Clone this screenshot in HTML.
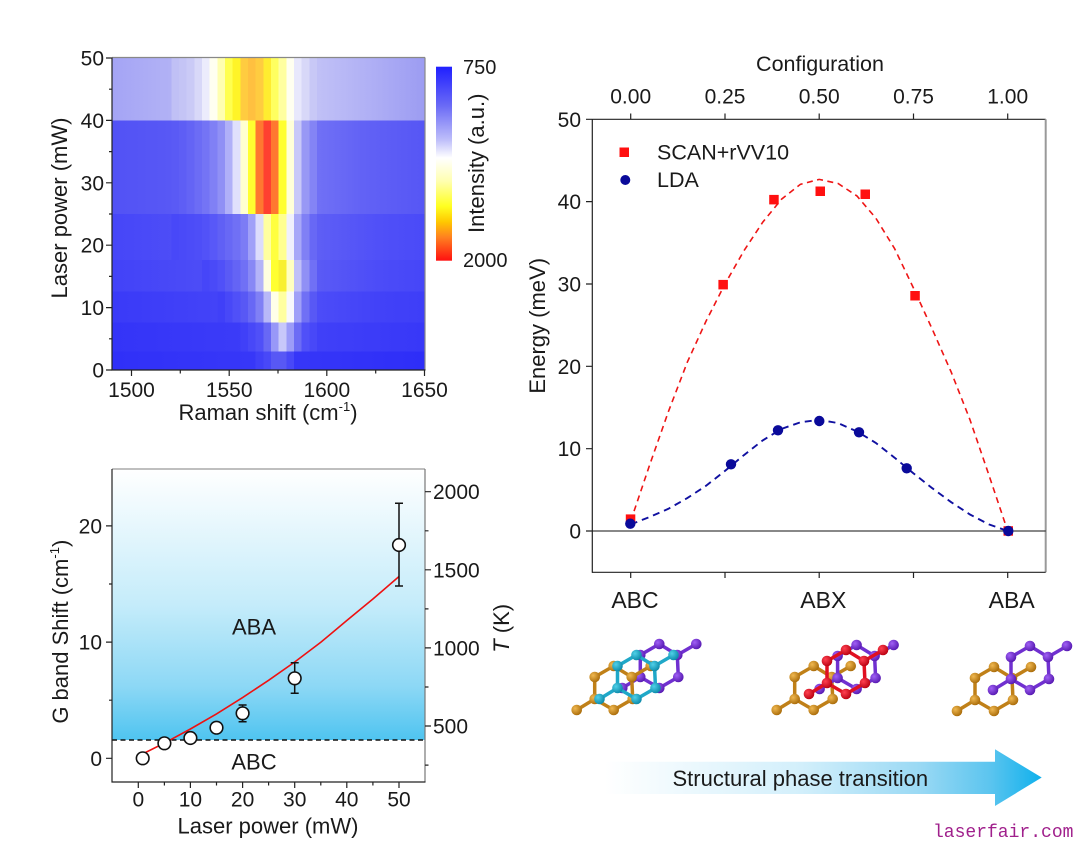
<!DOCTYPE html>
<html><head><meta charset="utf-8"><style>
html,body{margin:0;padding:0;background:#fff;}
svg{display:block;}
text{font-family:"Liberation Sans",Arial,sans-serif;fill:#1a1a1a;}
</style></head><body>
<svg width="1080" height="862" viewBox="0 0 1080 862" xmlns="http://www.w3.org/2000/svg">
<defs>
<linearGradient id="cb" x1="0" y1="0" x2="0" y2="1">
<stop offset="0" stop-color="#2020ff"/><stop offset="0.2" stop-color="#6a6af6"/><stop offset="0.38" stop-color="#c0c0fa"/><stop offset="0.47" stop-color="#ffffff"/><stop offset="0.59" stop-color="#ffffb0"/><stop offset="0.72" stop-color="#ffff20"/><stop offset="0.8" stop-color="#ffc800"/><stop offset="0.88" stop-color="#ff8020"/><stop offset="1" stop-color="#ff1010"/>
</linearGradient>
<linearGradient id="g50" gradientUnits="userSpaceOnUse" x1="112" y1="0" x2="425" y2="0"><stop offset="0" stop-color="#a4a4f5"/><stop offset="0.16" stop-color="#b0b0f5"/><stop offset="0.66" stop-color="#c0c0f6"/><stop offset="0.82" stop-color="#b0b0f5"/><stop offset="1" stop-color="#9c9cf2"/></linearGradient>
<linearGradient id="g30" gradientUnits="userSpaceOnUse" x1="112" y1="0" x2="425" y2="0"><stop offset="0" stop-color="#5252f5"/><stop offset="0.19" stop-color="#5858f5"/><stop offset="0.66" stop-color="#7070f5"/><stop offset="0.8" stop-color="#6262f5"/><stop offset="1" stop-color="#5656f5"/></linearGradient>
<linearGradient id="g20" gradientUnits="userSpaceOnUse" x1="112" y1="0" x2="425" y2="0"><stop offset="0" stop-color="#4646f8"/><stop offset="0.66" stop-color="#5e5ef5"/><stop offset="0.85" stop-color="#5050f8"/><stop offset="1" stop-color="#4a4af8"/></linearGradient>
<linearGradient id="g15" gradientUnits="userSpaceOnUse" x1="112" y1="0" x2="425" y2="0"><stop offset="0" stop-color="#4242f8"/><stop offset="0.66" stop-color="#5a5af5"/><stop offset="0.85" stop-color="#4c4cf8"/><stop offset="1" stop-color="#4646f8"/></linearGradient>
<linearGradient id="g10" gradientUnits="userSpaceOnUse" x1="112" y1="0" x2="425" y2="0"><stop offset="0" stop-color="#3a3af8"/><stop offset="0.66" stop-color="#4c4cf8"/><stop offset="0.85" stop-color="#4242f8"/><stop offset="1" stop-color="#3e3ef8"/></linearGradient>
<linearGradient id="g5" gradientUnits="userSpaceOnUse" x1="112" y1="0" x2="425" y2="0"><stop offset="0" stop-color="#3434f8"/><stop offset="0.66" stop-color="#4040f8"/><stop offset="1" stop-color="#3838f8"/></linearGradient>
<linearGradient id="g0" gradientUnits="userSpaceOnUse" x1="112" y1="0" x2="425" y2="0"><stop offset="0" stop-color="#3030f8"/><stop offset="0.5" stop-color="#3838f8"/><stop offset="1" stop-color="#2e2ef8"/></linearGradient>
<linearGradient id="bg2" x1="0" y1="0" x2="0" y2="1"><stop offset="0" stop-color="#ffffff"/><stop offset="0.5" stop-color="#c5ecfa"/><stop offset="0.8" stop-color="#8dd8f5"/><stop offset="1" stop-color="#4fc4f0"/></linearGradient>
<linearGradient id="arr" gradientUnits="userSpaceOnUse" x1="605" y1="0" x2="1042" y2="0"><stop offset="0" stop-color="#ffffff"/><stop offset="0.45" stop-color="#d2effb"/><stop offset="0.72" stop-color="#9ad9f4"/><stop offset="0.88" stop-color="#5cc5ef"/><stop offset="1" stop-color="#0fb0ec"/></linearGradient>
<radialGradient id="aO" cx="0.35" cy="0.35" r="0.7"><stop offset="0" stop-color="#f0b850"/><stop offset="1" stop-color="#a86a08"/></radialGradient>
<radialGradient id="aP" cx="0.35" cy="0.35" r="0.7"><stop offset="0" stop-color="#a060f5"/><stop offset="1" stop-color="#5518b0"/></radialGradient>
<radialGradient id="aC" cx="0.35" cy="0.35" r="0.7"><stop offset="0" stop-color="#50d0e8"/><stop offset="1" stop-color="#0a88a8"/></radialGradient>
<radialGradient id="aR" cx="0.35" cy="0.35" r="0.7"><stop offset="0" stop-color="#ff4050"/><stop offset="1" stop-color="#b80010"/></radialGradient>
<g id="hO"><path d="M0,-22 L18,-11 L19,11 L0,22 L-19,11 L-19,-11 Z M18,-11 L37,-22 M-19,11 L-37,22" fill="none" stroke="#c08018" stroke-width="3.5"/><g fill="url(#aO)"><circle cx="0" cy="-22" r="5.3"/><circle cx="18" cy="-11" r="5.3"/><circle cx="19" cy="11" r="5.3"/><circle cx="0" cy="22" r="5.3"/><circle cx="-19" cy="11" r="5.3"/><circle cx="-19" cy="-11" r="5.3"/><circle cx="37" cy="-22" r="5.3"/><circle cx="-37" cy="22" r="5.3"/></g></g>
<g id="hP"><path d="M0,-22 L18,-11 L19,11 L0,22 L-19,11 L-19,-11 Z M18,-11 L37,-22 M-19,11 L-37,22" fill="none" stroke="#7030d0" stroke-width="3.5"/><g fill="url(#aP)"><circle cx="0" cy="-22" r="5.3"/><circle cx="18" cy="-11" r="5.3"/><circle cx="19" cy="11" r="5.3"/><circle cx="0" cy="22" r="5.3"/><circle cx="-19" cy="11" r="5.3"/><circle cx="-19" cy="-11" r="5.3"/><circle cx="37" cy="-22" r="5.3"/><circle cx="-37" cy="22" r="5.3"/></g></g>
<g id="hC"><path d="M0,-22 L18,-11 L19,11 L0,22 L-19,11 L-19,-11 Z M18,-11 L37,-22 M-19,11 L-37,22" fill="none" stroke="#20a8c8" stroke-width="3.5"/><g fill="url(#aC)"><circle cx="0" cy="-22" r="5.3"/><circle cx="18" cy="-11" r="5.3"/><circle cx="19" cy="11" r="5.3"/><circle cx="0" cy="22" r="5.3"/><circle cx="-19" cy="11" r="5.3"/><circle cx="-19" cy="-11" r="5.3"/><circle cx="37" cy="-22" r="5.3"/><circle cx="-37" cy="22" r="5.3"/></g></g>
<g id="hR"><path d="M0,-22 L18,-11 L19,11 L0,22 L-19,11 L-19,-11 Z M18,-11 L37,-22 M-19,11 L-37,22" fill="none" stroke="#e01020" stroke-width="3.5"/><g fill="url(#aR)"><circle cx="0" cy="-22" r="5.3"/><circle cx="18" cy="-11" r="5.3"/><circle cx="19" cy="11" r="5.3"/><circle cx="0" cy="22" r="5.3"/><circle cx="-19" cy="11" r="5.3"/><circle cx="-19" cy="-11" r="5.3"/><circle cx="37" cy="-22" r="5.3"/><circle cx="-37" cy="22" r="5.3"/></g></g>
</defs>

<rect width="1080" height="862" fill="#fff"/>

<!-- ================= HEATMAP ================= -->
<g shape-rendering="crispEdges">
<rect x="112" y="58" width="313" height="62.4" fill="url(#g50)"/>
<rect x="112" y="120.4" width="313" height="93.8" fill="url(#g30)"/>
<rect x="112" y="214.2" width="313" height="46" fill="url(#g20)"/>
<rect x="112" y="260.2" width="313" height="31.5" fill="url(#g15)"/>
<rect x="112" y="291.7" width="313" height="31" fill="url(#g10)"/>
<rect x="112" y="322.7" width="313" height="29" fill="url(#g5)"/>
<rect x="112" y="351.7" width="313" height="18.3" fill="url(#g0)"/>

<svg x="0" y="58" width="1080" height="62.4" overflow="visible">
<rect x="171.3" width="7.8" height="100%" fill="#c0c0f5"/><rect x="179.0" width="7.8" height="100%" fill="#c4c4f5"/><rect x="186.6" width="7.8" height="100%" fill="#cacaf6"/><rect x="194.3" width="7.8" height="100%" fill="#d8d8f8"/><rect x="202.0" width="7.8" height="100%" fill="#ececfc"/><rect x="209.6" width="7.8" height="100%" fill="#fffff0"/><rect x="217.3" width="7.8" height="100%" fill="#ffffb0"/><rect x="225.0" width="7.8" height="100%" fill="#ffff50"/><rect x="232.7" width="7.8" height="100%" fill="#fff428"/><rect x="240.3" width="7.8" height="100%" fill="#ffcc40"/><rect x="248.0" width="7.8" height="100%" fill="#ffc040"/><rect x="255.7" width="7.8" height="100%" fill="#ffcc40"/><rect x="263.3" width="7.8" height="100%" fill="#ffec30"/><rect x="271.0" width="7.8" height="100%" fill="#ffff60"/><rect x="278.7" width="7.8" height="100%" fill="#ffffa0"/><rect x="286.3" width="7.8" height="100%" fill="#fffff0"/><rect x="294.0" width="7.8" height="100%" fill="#e8e8fc"/><rect x="301.7" width="7.8" height="100%" fill="#d8d8f8"/><rect x="309.4" width="7.8" height="100%" fill="#c8c8f6"/>
</svg>
<svg x="0" y="120.4" width="1080" height="93.8" overflow="visible">
<rect x="171.3" width="7.8" height="100%" fill="#5a5af5"/><rect x="179.0" width="7.8" height="100%" fill="#5e5ef5"/><rect x="186.6" width="7.8" height="100%" fill="#6464f5"/><rect x="194.3" width="7.8" height="100%" fill="#6c6cf5"/><rect x="202.0" width="7.8" height="100%" fill="#7474f5"/><rect x="209.6" width="7.8" height="100%" fill="#8080f5"/><rect x="217.3" width="7.8" height="100%" fill="#9090f5"/><rect x="225.0" width="7.8" height="100%" fill="#b0b0f8"/><rect x="232.7" width="7.8" height="100%" fill="#e0e0fc"/><rect x="240.3" width="7.8" height="100%" fill="#ffffd0"/><rect x="248.0" width="7.8" height="100%" fill="#ffff30"/><rect x="255.7" width="7.8" height="100%" fill="#ff7830"/><rect x="263.3" width="7.8" height="100%" fill="#ff4030"/><rect x="271.0" width="7.8" height="100%" fill="#ff7830"/><rect x="278.7" width="7.8" height="100%" fill="#ffff30"/><rect x="286.3" width="7.8" height="100%" fill="#ffffd8"/><rect x="294.0" width="7.8" height="100%" fill="#c8c8f8"/><rect x="301.7" width="7.8" height="100%" fill="#9898f5"/><rect x="309.4" width="7.8" height="100%" fill="#8484f5"/>
</svg>
<svg x="0" y="214.2" width="1080" height="46" overflow="visible">
<rect x="171.3" width="7.8" height="100%" fill="#4848f8"/><rect x="179.0" width="7.8" height="100%" fill="#4a4af8"/><rect x="186.6" width="7.8" height="100%" fill="#4c4cf8"/><rect x="194.3" width="7.8" height="100%" fill="#4e4ef8"/><rect x="202.0" width="7.8" height="100%" fill="#5252f8"/><rect x="209.6" width="7.8" height="100%" fill="#5858f8"/><rect x="217.3" width="7.8" height="100%" fill="#6060f5"/><rect x="225.0" width="7.8" height="100%" fill="#6868f5"/><rect x="232.7" width="7.8" height="100%" fill="#7070f5"/><rect x="240.3" width="7.8" height="100%" fill="#7c7cf5"/><rect x="248.0" width="7.8" height="100%" fill="#a0a0f8"/><rect x="255.7" width="7.8" height="100%" fill="#dcdcfc"/><rect x="263.3" width="7.8" height="100%" fill="#ffffa0"/><rect x="271.0" width="7.8" height="100%" fill="#ffff40"/><rect x="278.7" width="7.8" height="100%" fill="#ffff90"/><rect x="286.3" width="7.8" height="100%" fill="#f0f0fc"/><rect x="294.0" width="7.8" height="100%" fill="#a8a8f8"/><rect x="301.7" width="7.8" height="100%" fill="#8080f5"/><rect x="309.4" width="7.8" height="100%" fill="#6868f5"/>
</svg>
<svg x="0" y="260.2" width="1080" height="31.5" overflow="visible">
<rect x="202.0" width="7.8" height="100%" fill="#4646f8"/><rect x="209.6" width="7.8" height="100%" fill="#4a4af8"/><rect x="217.3" width="7.8" height="100%" fill="#5050f8"/><rect x="225.0" width="7.8" height="100%" fill="#5a5af5"/><rect x="232.7" width="7.8" height="100%" fill="#6464f5"/><rect x="240.3" width="7.8" height="100%" fill="#7070f5"/><rect x="248.0" width="7.8" height="100%" fill="#8888f5"/><rect x="255.7" width="7.8" height="100%" fill="#b4b4f8"/><rect x="263.3" width="7.8" height="100%" fill="#ffffe0"/><rect x="271.0" width="7.8" height="100%" fill="#ffff30"/><rect x="278.7" width="7.8" height="100%" fill="#f8f030"/><rect x="286.3" width="7.8" height="100%" fill="#ffffc0"/><rect x="294.0" width="7.8" height="100%" fill="#c0c0f8"/><rect x="301.7" width="7.8" height="100%" fill="#9090f5"/><rect x="309.4" width="7.8" height="100%" fill="#7070f5"/>
</svg>
<svg x="0" y="291.7" width="1080" height="31" overflow="visible">
<rect x="217.3" width="7.8" height="100%" fill="#4040f8"/><rect x="225.0" width="7.8" height="100%" fill="#4848f8"/><rect x="232.7" width="7.8" height="100%" fill="#5050f8"/><rect x="240.3" width="7.8" height="100%" fill="#5858f5"/><rect x="248.0" width="7.8" height="100%" fill="#6868f5"/><rect x="255.7" width="7.8" height="100%" fill="#8080f5"/><rect x="263.3" width="7.8" height="100%" fill="#b8b8f8"/><rect x="271.0" width="7.8" height="100%" fill="#ffffe8"/><rect x="278.7" width="7.8" height="100%" fill="#ffffa0"/><rect x="286.3" width="7.8" height="100%" fill="#f8f8fc"/><rect x="294.0" width="7.8" height="100%" fill="#a0a0f8"/><rect x="301.7" width="7.8" height="100%" fill="#7070f5"/><rect x="309.4" width="7.8" height="100%" fill="#5858f5"/>
</svg>
<svg x="0" y="322.7" width="1080" height="29" overflow="visible">
<rect x="240.3" width="7.8" height="100%" fill="#4040f8"/><rect x="248.0" width="7.8" height="100%" fill="#4848f8"/><rect x="255.7" width="7.8" height="100%" fill="#5050f8"/><rect x="263.3" width="7.8" height="100%" fill="#6868f5"/><rect x="271.0" width="7.8" height="100%" fill="#9898f8"/><rect x="278.7" width="7.8" height="100%" fill="#c8c8fa"/><rect x="286.3" width="7.8" height="100%" fill="#9c9cf8"/><rect x="294.0" width="7.8" height="100%" fill="#6c6cf5"/><rect x="301.7" width="7.8" height="100%" fill="#5050f8"/><rect x="309.4" width="7.8" height="100%" fill="#4848f8"/>
</svg>
<svg x="0" y="351.7" width="1080" height="18.3" overflow="visible">
<rect x="255.7" width="7.8" height="100%" fill="#4040f8"/><rect x="263.3" width="7.8" height="100%" fill="#4848f8"/><rect x="271.0" width="7.8" height="100%" fill="#5858f5"/><rect x="278.7" width="7.8" height="100%" fill="#5858f5"/><rect x="286.3" width="7.8" height="100%" fill="#4848f8"/>
</svg>
</g>
<!-- heatmap frame -->
<line x1="112" y1="57.5" x2="425" y2="57.5" stroke="#888" stroke-width="1.2"/>
<line x1="425" y1="57.5" x2="425" y2="370" stroke="#888" stroke-width="1.2"/>
<line x1="112" y1="57.5" x2="112" y2="370.5" stroke="#222" stroke-width="1.2"/>
<line x1="111.5" y1="370" x2="425.5" y2="370" stroke="#222" stroke-width="1.2"/>
<g stroke="#222" stroke-width="1.2">
<path d="M106,370H112M106,307.6H112M106,245.2H112M106,182.8H112M106,120.4H112M106,58H112"/>
<path d="M109,338.8H112M109,276.4H112M109,214H112M109,151.6H112M109,89.2H112"/>
<path d="M131.5,370V376M229.2,370V376M326.8,370V376M424.5,370V376"/>
<path d="M180.3,370V373.5M278,370V373.5M375.7,370V373.5"/>
</g>
<g font-size="21" text-anchor="end">
<text x="104" y="377.5">0</text><text x="104" y="315.1">10</text><text x="104" y="252.7">20</text><text x="104" y="190.3">30</text><text x="104" y="127.9">40</text><text x="104" y="65.5">50</text>
</g>
<g font-size="21" text-anchor="middle">
<text x="131.5" y="397">1500</text><text x="229.2" y="397">1550</text><text x="326.8" y="397">1600</text><text x="424.5" y="397">1650</text>
</g>
<text x="268" y="420" font-size="22" text-anchor="middle">Raman shift (cm<tspan font-size="13" dy="-9">-1</tspan><tspan dy="9">)</tspan></text>
<text transform="translate(67,208) rotate(-90)" font-size="22" text-anchor="middle">Laser power (mW)</text>
<!-- colorbar -->
<rect x="436" y="66.7" width="16" height="194" fill="url(#cb)"/>
<text x="463" y="74" font-size="20">750</text>
<text x="463" y="267" font-size="20">2000</text>
<text transform="translate(484,163.3) rotate(-90)" font-size="22" text-anchor="middle">Intensity (a.u.)</text>

<!-- ================= BOTTOM LEFT ================= -->
<rect x="112" y="469" width="313" height="271" fill="url(#bg2)"/>
<line x1="112" y1="740" x2="425" y2="740" stroke="#111" stroke-width="1.6" stroke-dasharray="5,3.5"/>
<line x1="112" y1="469" x2="425" y2="469" stroke="#999" stroke-width="1.2"/>
<line x1="425" y1="469" x2="425" y2="782" stroke="#777" stroke-width="1.2"/>
<line x1="112" y1="469" x2="112" y2="782.5" stroke="#222" stroke-width="1.2"/>
<line x1="111.5" y1="782" x2="425.5" y2="782" stroke="#222" stroke-width="1.2"/>
<g stroke="#222" stroke-width="1.2">
<path d="M106,758.3H112M106,642.1H112M106,525.9H112M109,700.2H112M109,584H112"/>
<path d="M425,491.7H431M425,569.8H431M425,647.9H431M425,726H431M425,530.8H428.5M425,608.9H428.5M425,687H428.5M425,765.1H428.5"/>
<path d="M138.3,782V788M190.4,782V788M242.6,782V788M294.7,782V788M346.8,782V788M399,782V788"/>
<path d="M164.4,782V785.5M216.5,782V785.5M268.6,782V785.5M320.8,782V785.5M372.9,782V785.5"/>
</g>
<g font-size="21" text-anchor="end">
<text x="102" y="765.8">0</text><text x="102" y="649.6">10</text><text x="102" y="533.4">20</text>
</g>
<g font-size="21">
<text x="433" y="499.2">2000</text><text x="433" y="577.3">1500</text><text x="433" y="655.4">1000</text><text x="433" y="733.5">500</text>
</g>
<g font-size="21" text-anchor="middle">
<text x="138.3" y="806.5">0</text><text x="190.4" y="806.5">10</text><text x="242.6" y="806.5">20</text><text x="294.7" y="806.5">30</text><text x="346.8" y="806.5">40</text><text x="399" y="806.5">50</text>
</g>
<text x="268" y="833.5" font-size="22" text-anchor="middle">Laser power (mW)</text>
<text transform="translate(68,631.7) rotate(-90)" font-size="22" text-anchor="middle">G band Shift (cm<tspan font-size="13" dy="-9">-1</tspan><tspan dy="9">)</tspan></text>
<text transform="translate(509,628.3) rotate(-90)" font-size="22" text-anchor="middle"><tspan font-style="italic">T</tspan> (K)</text>
<text x="254" y="634.5" font-size="22" text-anchor="middle">ABA</text>
<text x="254" y="769.5" font-size="22" text-anchor="middle">ABC</text>
<polyline points="143.5,753.5 164.4,743.1 190.4,729 216.5,713.9 242.6,697.6 268.6,680.3 294.7,662 320.8,642.3 346.8,620.5 372.9,599 399,576.5" fill="none" stroke="#ee1111" stroke-width="1.6"/>
<g stroke="#111" stroke-width="1.5" fill="none">
<path d="M242.6,705V721.7M238.6,705H246.6M238.6,721.7H246.6"/>
<path d="M294.7,662.7V693.3M290.7,662.7H298.7M290.7,693.3H298.7"/>
<path d="M399,503.3V586M395,503.3H403M395,586H403"/>
<path d="M190.4,734V742"/>
</g>
<g fill="#fff" stroke="#111" stroke-width="1.6">
<circle cx="142.7" cy="758.3" r="6.3"/><circle cx="164.4" cy="743.3" r="6.3"/><circle cx="190.4" cy="738" r="6.3"/><circle cx="216.5" cy="727.7" r="6.3"/><circle cx="242.6" cy="713.3" r="6.3"/><circle cx="294.7" cy="678.3" r="6.3"/><circle cx="399" cy="545" r="6.3"/>
</g>

<!-- ================= RIGHT CHART ================= -->
<line x1="592.3" y1="119.3" x2="1045.7" y2="119.3" stroke="#222" stroke-width="1.2"/>
<line x1="1045.7" y1="119.3" x2="1045.7" y2="572.3" stroke="#999" stroke-width="2"/>
<line x1="592.3" y1="119" x2="592.3" y2="572.8" stroke="#222" stroke-width="1.2"/>
<line x1="592" y1="572.3" x2="1045.7" y2="572.3" stroke="#222" stroke-width="1.2"/>
<line x1="592.3" y1="531" x2="1045.7" y2="531" stroke="#111" stroke-width="1.1"/>
<g stroke="#222" stroke-width="1.2">
<path d="M586,531H592.3M586,448.7H592.3M586,366.3H592.3M586,284H592.3M586,201.6H592.3M586,119.3H592.3"/>
<path d="M630.7,119.3V113.5M725,119.3V113.5M819.2,119.3V113.5M913.5,119.3V113.5M1007.7,119.3V113.5"/>
<path d="M630.7,572.3V578M725,572.3V578M819.2,572.3V578M913.5,572.3V578M1007.7,572.3V578"/>
</g>
<g font-size="21" text-anchor="end">
<text x="581" y="538.5">0</text><text x="581" y="456.2">10</text><text x="581" y="373.8">20</text><text x="581" y="291.5">30</text><text x="581" y="209.1">40</text><text x="581" y="126.8">50</text>
</g>
<g font-size="21" text-anchor="middle">
<text x="630.7" y="103.5">0.00</text><text x="725" y="103.5">0.25</text><text x="819.2" y="103.5">0.50</text><text x="913.5" y="103.5">0.75</text><text x="1007.7" y="103.5">1.00</text>
</g>
<text x="820" y="71" font-size="21.5" text-anchor="middle">Configuration</text>
<text transform="translate(545,325.8) rotate(-90)" font-size="22" text-anchor="middle">Energy (meV)</text>
<g font-size="23" text-anchor="middle">
<text x="635" y="608">ABC</text><text x="823.3" y="608">ABX</text><text x="1011.7" y="608">ABA</text>
</g>
<!-- legend -->
<rect x="619.5" y="147.5" width="9.5" height="9.5" fill="#ff1010"/>
<text x="657" y="159.5" font-size="21.5">SCAN+rVV10</text>
<circle cx="625.3" cy="180" r="5" fill="#0a0a9a"/>
<text x="657" y="187" font-size="21.5">LDA</text>
<!-- curves -->
<polyline points="630.7,521.1 649.6,465.1 668.4,411.6 687.3,362.2 706.1,321 725,284 743.8,251 762.7,222.2 781.5,199.2 800.4,184.3 819.2,179.4 838.1,183.5 856.9,195.9 875.8,218.1 894.6,248.6 913.5,288.1 932.3,329.3 951.2,372.1 970,419.8 988.9,475 1007.7,531" fill="none" stroke="#ee1515" stroke-width="1.6" stroke-dasharray="6,4.5"/>
<polyline points="630.7,524.4 649.6,517 668.4,508.8 687.3,498.1 706.1,485.7 725,470.9 743.8,455.2 762.7,440.4 781.5,428.9 800.4,422.3 819.2,419.8 838.1,423.1 856.9,431.4 875.8,442.9 894.6,457.7 913.5,473.4 932.3,488.2 951.2,502.2 970,514.5 988.9,524.4 1007.7,531" fill="none" stroke="#1010a0" stroke-width="1.9" stroke-dasharray="7,5"/>
<g fill="#ff1010">
<rect x="625.8" y="514.4" width="9.5" height="9.5"/><rect x="718.4" y="279.9" width="9.5" height="9.5"/><rect x="769.2" y="194.9" width="9.5" height="9.5"/><rect x="815.5" y="186.5" width="9.5" height="9.5"/><rect x="860.5" y="189.5" width="9.5" height="9.5"/><rect x="910.3" y="291" width="9.5" height="9.5"/><rect x="1003.5" y="526.2" width="9.5" height="9.5"/>
</g>
<g fill="#0a0a9a">
<circle cx="630.3" cy="523.7" r="5.2"/><circle cx="731" cy="464.3" r="5.2"/><circle cx="778" cy="430.3" r="5.2"/><circle cx="819.3" cy="421" r="5.2"/><circle cx="859" cy="432.3" r="5.2"/><circle cx="906.7" cy="468.3" r="5.2"/><circle cx="1008.3" cy="531" r="5.2"/>
</g>

<!-- ================= MOLECULES ================= -->
<use href="#hP" x="659.3" y="666"/>
<use href="#hO" x="613.7" y="688"/>
<use href="#hC" x="636.5" y="677"/>

<use href="#hO" x="813.7" y="688"/>
<use href="#hP" x="856.6" y="667"/>
<use href="#hR" x="846" y="672"/>

<use href="#hO" x="994" y="689"/>
<use href="#hP" x="1030" y="668"/>

<!-- ================= ARROW ================= -->
<polygon points="605,761.7 995,761.7 995,749.3 1041.7,777.5 995,806 995,794 605,794" fill="url(#arr)"/>
<text x="672.5" y="786" font-size="22">Structural phase transition</text>

<text x="933" y="837" font-size="18" style="font-family:'Liberation Mono','DejaVu Sans Mono',monospace;fill:#a0208c;">laserfair.com</text>
</svg>
</body></html>
